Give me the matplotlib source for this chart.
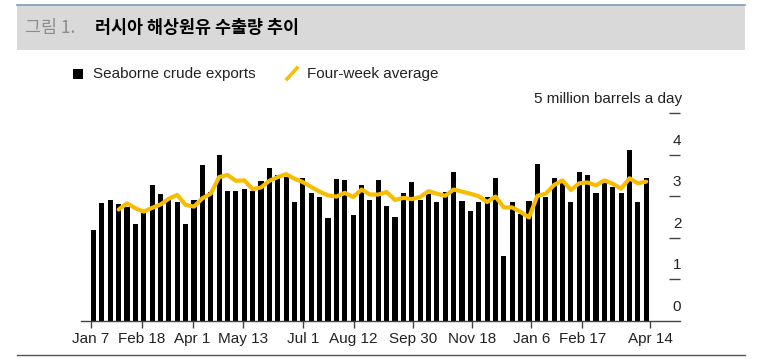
import numpy as np
import matplotlib
matplotlib.use('Agg')
import matplotlib.pyplot as plt
import matplotlib.transforms as mtransforms
from matplotlib.patches import Rectangle
from matplotlib.lines import Line2D

plt.rcParams['font.family'] = ['Liberation Sans', 'DejaVu Sans']

# weekly seaborne crude exports, million barrels a day (Jan 7 2019 .. Apr 2020)
exports = [2.19, 2.84, 2.92, 2.82, 2.75, 2.32, 2.60, 3.28, 3.05, 2.91,
           2.85, 2.32, 2.92, 3.76, 3.10, 3.98, 3.13, 3.13, 3.18, 3.13,
           3.36, 3.68, 3.52, 3.46, 2.87, 3.44, 3.07, 2.97, 2.48, 3.42,
           3.39, 2.56, 3.27, 2.92, 3.39, 2.76, 2.51, 3.08, 3.33, 2.92,
           3.05, 2.85, 3.11, 3.57, 2.88, 2.64, 2.87, 2.97, 3.44, 1.57,
           2.87, 2.57, 2.89, 3.77, 2.97, 3.44, 3.31, 2.85, 3.57, 3.50,
           3.08, 3.31, 3.21, 3.08, 4.12, 2.87, 3.43]

# four-week average, starts at the 4th week
avg4 = [2.68, 2.83, 2.71, 2.63, 2.72, 2.80, 2.94, 3.03, 2.79, 2.75,
        2.95, 3.06, 3.46, 3.51, 3.37, 3.38, 3.17, 3.21, 3.37, 3.46,
        3.53, 3.42, 3.34, 3.22, 3.11, 3.02, 2.99, 3.08, 2.98, 3.16,
        3.04, 3.04, 3.10, 2.91, 2.96, 2.93, 2.98, 3.12, 3.06, 3.01,
        3.16, 3.11, 3.06, 3.00, 2.86, 2.99, 2.73, 2.73, 2.62, 2.49,
        3.01, 3.06, 3.27, 3.38, 3.15, 3.31, 3.33, 3.26, 3.38, 3.30,
        3.18, 3.43, 3.31, 3.35]

tick_weeks = [0, 6, 12, 18, 25, 31, 38, 45, 52, 58, 66]
tick_labels = ['Jan 7', 'Feb 18', 'Apr 1', 'May 13', 'Jul 1', 'Aug 12',
               'Sep 30', 'Nov 18', 'Jan 6', 'Feb 17', 'Apr 14']
y_ticks = [1, 2, 3, 4, 5]
y_labels = ['0', '1', '2', '3', '4']

W, H = 763, 362
fig = plt.figure(figsize=(W / 100, H / 100), dpi=100)

# header band
fig.patches.append(Rectangle((17 / W, 1 - 50 / H), 728 / W, 45 / H,
                             transform=fig.transFigure, facecolor='#d9d9d9',
                             edgecolor='none', zorder=0))
fig.lines.append(Line2D([17 / W, 745 / W], [1 - 5 / H, 1 - 5 / H],
                        transform=fig.transFigure, color='#7f9db9', lw=1.2))
fig.text(25 / W, 1 - 28 / H, '그림 1.', fontsize=12.5, color='#8c8c8c',
         family=['Noto Sans CJK KR', 'DejaVu Sans'], va='center')
fig.text(95 / W, 1 - 28 / H, '러시아 해상원유 수출량 추이', fontsize=12.5,
         color='black', fontweight='bold',
         family=['Noto Sans CJK KR', 'DejaVu Sans'], va='center')
# bottom rule
fig.lines.append(Line2D([17 / W, 745 / W], [1 - 355 / H, 1 - 355 / H],
                        transform=fig.transFigure, color='#555555', lw=1.0))

ax = fig.add_axes([81 / W, 1 - 321 / H, 599 / W, 208 / H])

n = len(exports)
bar_w = 0.6
x = np.linspace(0, 66 - bar_w - 0.15, n)
ax.bar(x, exports, width=bar_w, align='edge', color='black', zorder=2)
ax.plot(x[3:] + bar_w / 2, avg4, color='#f7bd00', lw=3, zorder=3,
        solid_joinstyle='round', solid_capstyle='round')

ax.set_xlim(-10 / 8.47, 589 / 8.47)
ax.set_ylim(0, 5)
for s in ['top', 'left', 'right']:
    ax.spines[s].set_visible(False)
ax.spines['bottom'].set_color('#444444')
ax.spines['bottom'].set_linewidth(1.0)

ax.set_xticks(tick_weeks)
ax.set_xticklabels(tick_labels, fontsize=11, color='#222222')
ax.tick_params(axis='x', length=5, width=1, color='#444444', pad=3)

ax.yaxis.tick_right()
ax.set_yticks(y_ticks)
ax.set_yticklabels([])
ax.tick_params(axis='y', direction='in', length=8, width=1, color='#444444',
               right=True, left=False)

lab_tr = mtransforms.blended_transform_factory(ax.transAxes, ax.transData)
off = mtransforms.offset_copy(lab_tr, fig=fig, y=5, units='points')
for v, lab in zip([0, 1, 2, 3, 4], y_labels):
    ax.text(596 / 599, v, lab, transform=off, ha='center', va='bottom',
            fontsize=11, color='#222222')
ax.text(1.003, 5, '5 million barrels a day', transform=off, ha='right',
        va='bottom', fontsize=11, color='#222222')

# legend
fig.patches.append(Rectangle((73 / W, 1 - 79 / H), 10 / W, 10 / H,
                             transform=fig.transFigure, facecolor='black',
                             edgecolor='none'))
fig.text(93 / W, 1 - 74 / H, 'Seaborne crude exports', fontsize=11,
         color='#222222', va='center')
fig.lines.append(Line2D([287 / W, 297 / W], [1 - 79 / H, 1 - 68 / H],
                        transform=fig.transFigure, color='#f7bd00', lw=2.5))
fig.text(307 / W, 1 - 74 / H, 'Four-week average', fontsize=11,
         color='#222222', va='center')

fig.savefig('out.png', dpi=100, facecolor='white')
